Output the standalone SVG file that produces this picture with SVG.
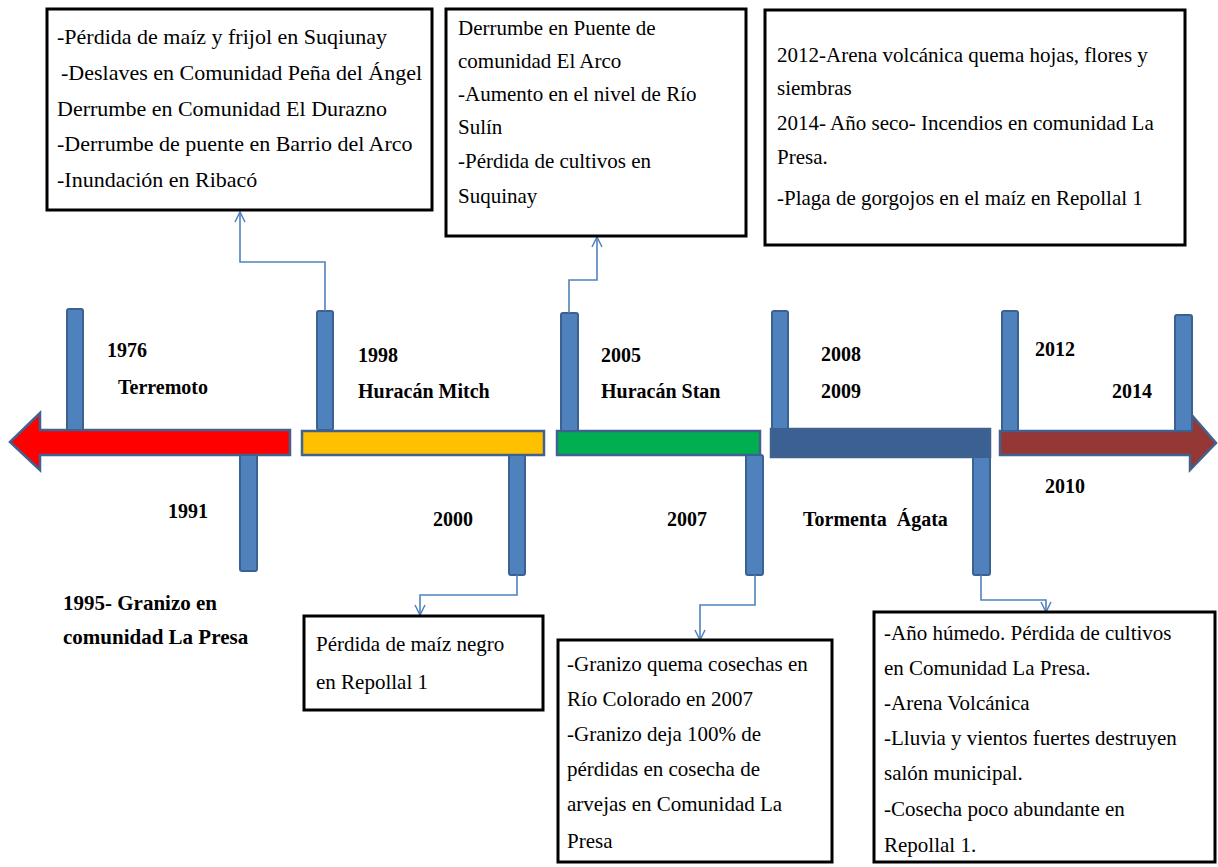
<svg xmlns="http://www.w3.org/2000/svg" width="1218" height="867" viewBox="0 0 1218 867">
<defs>
<style>
.box{fill:#fff;stroke:#000;stroke-width:3}
.bar{fill:#4f81bd;stroke:#3a6191;stroke-width:2}
.band{stroke:#41628f;stroke-width:2.5}
.con{fill:none;stroke:#4f81bd;stroke-width:1.6}
</style>
<marker id="arr" viewBox="0 0 12 12" refX="11" refY="6" markerWidth="12" markerHeight="12" orient="auto" markerUnits="userSpaceOnUse">
<path d="M1,1 L11,6 L1,11" fill="none" stroke="#4f81bd" stroke-width="1.5"/>
</marker>
</defs>
<rect width="1218" height="867" fill="#fff"/>

<g id="timeline">
<polygon class="band" fill="#ff0000" points="40,413 40,430 290,430 290,455 40,455 40,470 10,442"/>
<rect class="band" fill="#ffc000" x="302" y="431" width="242" height="24"/>
<rect class="band" fill="#00b050" x="557" y="431" width="203" height="24"/>
<rect class="band" fill="#3b6193" x="771" y="429" width="219" height="28"/>
<polygon class="band" fill="#953735" points="1000,431 1190,431 1190,413 1216,443 1190,470 1190,455 1000,455"/>
</g>

<g id="ticks">
<rect class="bar" x="67" y="309" width="16" height="121" rx="2"/>
<rect class="bar" x="317" y="311" width="16" height="119" rx="2"/>
<rect class="bar" x="561" y="313" width="17" height="118" rx="2"/>
<rect class="bar" x="772" y="311" width="16" height="118" rx="2"/>
<rect class="bar" x="1002" y="311" width="16" height="120" rx="2"/>
<rect class="bar" x="1175" y="315" width="17" height="116" rx="2"/>
<rect class="bar" x="240" y="455" width="17" height="116" rx="2"/>
<rect class="bar" x="509" y="455" width="16" height="120" rx="2"/>
<rect class="bar" x="746" y="455" width="17" height="120" rx="2"/>
<rect class="bar" x="973" y="457" width="17" height="118" rx="2"/>
</g>

<g id="connectors">
<path class="con" d="M325,311 V262 H240 V212" marker-end="url(#arr)"/>
<path class="con" d="M569,313 V280 H597 V237" marker-end="url(#arr)"/>
<path class="con" d="M517,575 V595 H420 V615" marker-end="url(#arr)"/>
<path class="con" d="M755,575 V605 H700 V640" marker-end="url(#arr)"/>
<path class="con" d="M981,575 V600 H1046 V612" marker-end="url(#arr)"/>
</g>

<g id="labels" font-family="Liberation Serif" font-size="20" font-weight="bold" fill="#000">
<text x="107" y="357">1976</text>
<text x="118" y="394">Terremoto</text>
<text x="358" y="362">1998</text>
<text x="358" y="398">Huracán Mitch</text>
<text x="601" y="362">2005</text>
<text x="601" y="398">Huracán Stan</text>
<text x="821" y="361">2008</text>
<text x="821" y="398">2009</text>
<text x="1035" y="356">2012</text>
<text x="1112" y="398">2014</text>
<text x="1045" y="493">2010</text>
<text x="803" y="526" xml:space="preserve">Tormenta  Ágata</text>
<text x="168" y="518">1991</text>
<text x="433" y="526">2000</text>
<text x="667" y="526">2007</text>
<text x="63" y="610" font-size="21">1995- Granizo en</text>
<text x="63" y="644" font-size="21">comunidad La Presa</text>
</g>

<g id="box-1998" font-family="Liberation Serif" font-size="22" fill="#000">
<rect class="box" x="47" y="9" width="385" height="201"/>
<text x="57" y="44">-Pérdida de maíz y frijol en Suqiunay</text>
<text x="61" y="80">-Deslaves en Comunidad Peña del Ángel</text>
<text x="57" y="116">Derrumbe en Comunidad El Durazno</text>
<text x="57" y="151">-Derrumbe de puente en Barrio del Arco</text>
<text x="57" y="187">-Inundación en Ribacó</text>
</g>

<g id="box-2005" font-family="Liberation Serif" font-size="21" fill="#000">
<rect class="box" x="446" y="9" width="300" height="227"/>
<text x="458" y="35">Derrumbe en Puente de</text>
<text x="458" y="68">comunidad El Arco</text>
<text x="458" y="101">-Aumento en el nivel de Río</text>
<text x="458" y="134">Sulín</text>
<text x="458" y="168">-Pérdida de cultivos en</text>
<text x="458" y="203">Suquinay</text>
</g>

<g id="box-2012" font-family="Liberation Serif" font-size="21" fill="#000">
<rect class="box" x="765" y="10" width="420" height="235"/>
<text x="777" y="62">2012-Arena volcánica quema hojas, flores y</text>
<text x="777" y="95">siembras</text>
<text x="777" y="130">2014- Año seco- Incendios en comunidad La</text>
<text x="777" y="164">Presa.</text>
<text x="777" y="205">-Plaga de gorgojos en el maíz en Repollal 1</text>
</g>

<g id="box-2000" font-family="Liberation Serif" font-size="21" fill="#000">
<rect class="box" x="304" y="616" width="239" height="94"/>
<text x="316" y="651">Pérdida de maíz negro</text>
<text x="316" y="689">en Repollal 1</text>
</g>

<g id="box-2007" font-family="Liberation Serif" font-size="21" fill="#000">
<rect class="box" x="558" y="640" width="274" height="222"/>
<text x="567" y="671">-Granizo quema cosechas en</text>
<text x="567" y="706">Río Colorado en 2007</text>
<text x="567" y="741">-Granizo deja 100% de</text>
<text x="567" y="776">pérdidas en cosecha de</text>
<text x="567" y="811">arvejas en Comunidad La</text>
<text x="567" y="848">Presa</text>
</g>

<g id="box-2010" font-family="Liberation Serif" font-size="21" fill="#000">
<rect class="box" x="874" y="612" width="341" height="250"/>
<text x="884" y="640">-Año húmedo. Pérdida de cultivos</text>
<text x="884" y="675">en Comunidad La Presa.</text>
<text x="884" y="710">-Arena Volcánica</text>
<text x="884" y="745">-Lluvia y vientos fuertes destruyen</text>
<text x="884" y="780">salón municipal.</text>
<text x="884" y="816">-Cosecha poco abundante en</text>
<text x="884" y="852">Repollal 1.</text>
</g>
</svg>
